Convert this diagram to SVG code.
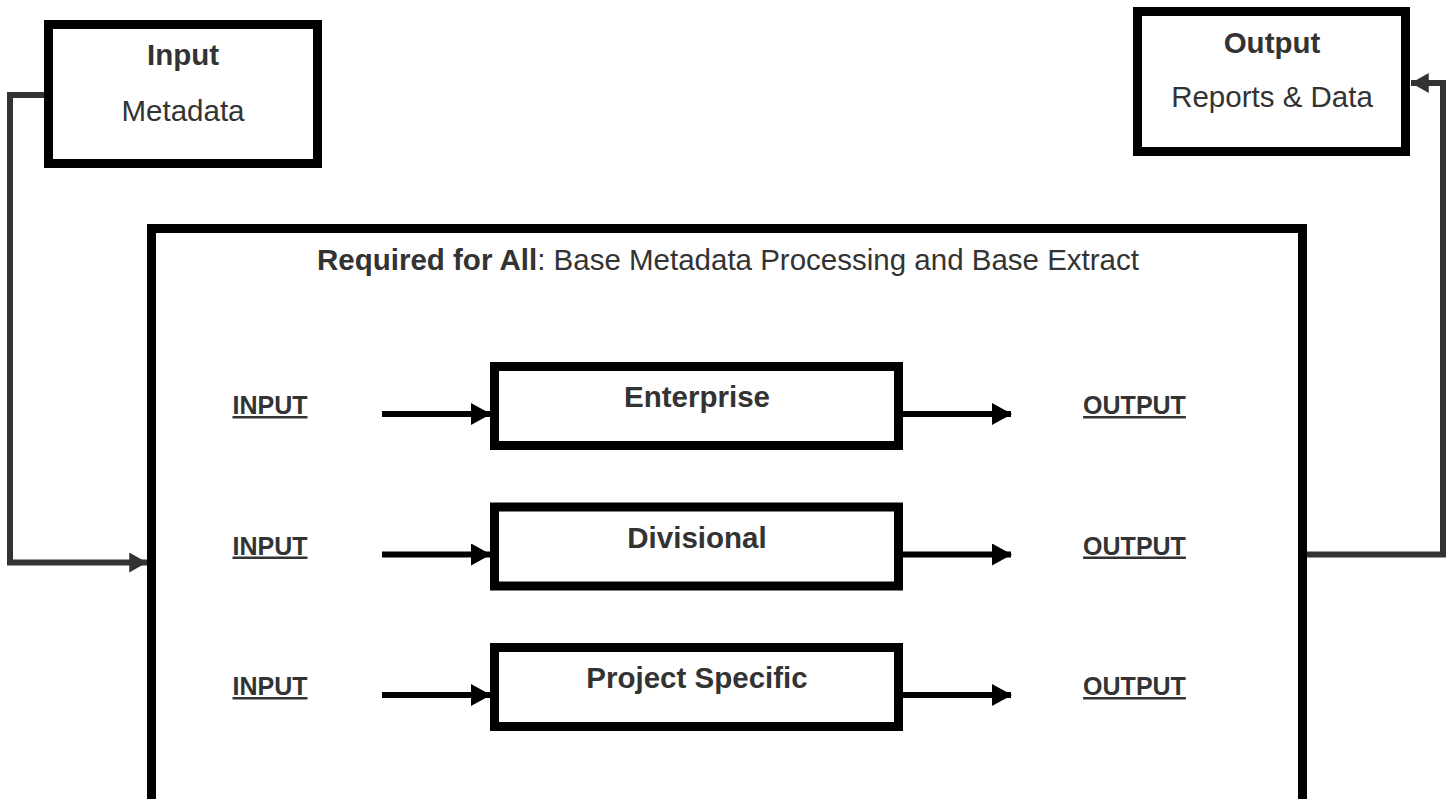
<svg xmlns="http://www.w3.org/2000/svg" width="1455" height="799" viewBox="0 0 1455 799">
<defs>
<style>
.box{fill:#fff;stroke:#000;stroke-width:9}
.t{font-family:"Liberation Sans",Arial,sans-serif;fill:#333;text-anchor:middle}
.b{font-weight:bold}
.big{font-size:29.5px}
.lbl{font-size:25px;font-weight:bold;text-decoration:underline}
.conn{fill:none;stroke:#333;stroke-width:6}
.arr{fill:none;stroke:#000;stroke-width:6}
</style>
<marker id="ah" markerUnits="userSpaceOnUse" markerWidth="22" markerHeight="22" refX="19" refY="11" orient="auto" viewBox="0 0 22 22">
<path d="M0,0 L20,11 L0,22 Z" fill="#000"/>
</marker>
<marker id="ahg" markerUnits="userSpaceOnUse" markerWidth="20" markerHeight="20" refX="16" refY="9" orient="auto" viewBox="0 0 18 18">
<path d="M0,0 L16,9 L0,18 Z" fill="#333"/>
</marker>
</defs>
<g id="connectors">
<path class="conn" d="M44,95 H10 V562.5 H147" marker-end="url(#ahg)"/>
<path class="conn" d="M1303,554.5 H1443 V83 H1411" marker-end="url(#ahg)"/>
</g>
<g id="main">
<rect class="box" x="151.5" y="228.5" width="1151" height="600"/>
<text class="t big" x="728" y="270"><tspan class="b">Required for All</tspan>: Base Metadata Processing and Base Extract</text>
</g>
<g id="input">
<rect class="box" x="48.5" y="24.5" width="269" height="139"/>
<text class="t big b" x="183" y="65">Input</text>
<text class="t big" x="183" y="121">Metadata</text>
</g>
<g id="output">
<rect class="box" x="1137.5" y="11.5" width="268" height="140"/>
<text class="t big b" x="1272" y="53">Output</text>
<text class="t big" x="1272" y="107">Reports &amp; Data</text>
</g>
<g id="enterprise">
<rect class="box" x="494.5" y="366.5" width="404" height="79"/>
<text class="t big b" x="697" y="407">Enterprise</text>
</g>
<g id="divisional">
<rect class="box" x="494.5" y="507" width="404" height="79"/>
<text class="t big b" x="697" y="547.5">Divisional</text>
</g>
<g id="project">
<rect class="box" x="494.5" y="647.5" width="404" height="79"/>
<text class="t big b" x="697" y="688">Project Specific</text>
</g>
<g id="labels">
<text class="t lbl" x="270" y="414">INPUT</text>
<text class="t lbl" x="270" y="554.5">INPUT</text>
<text class="t lbl" x="270" y="695">INPUT</text>
<text class="t lbl" x="1134.5" y="414">OUTPUT</text>
<text class="t lbl" x="1134.5" y="554.5">OUTPUT</text>
<text class="t lbl" x="1134.5" y="695">OUTPUT</text>
</g>
<g id="inner-arrows">
<path class="arr" d="M382,414 H490" marker-end="url(#ah)"/>
<path class="arr" d="M382,554.5 H490" marker-end="url(#ah)"/>
<path class="arr" d="M382,695 H490" marker-end="url(#ah)"/>
<path class="arr" d="M903,414 H1011" marker-end="url(#ah)"/>
<path class="arr" d="M903,554.5 H1011" marker-end="url(#ah)"/>
<path class="arr" d="M903,695 H1011" marker-end="url(#ah)"/>
</g>
</svg>
